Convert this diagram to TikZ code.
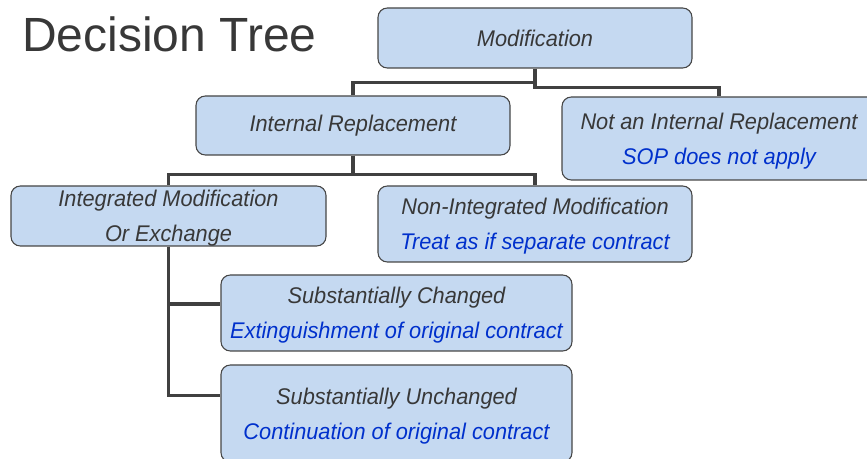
\documentclass[tikz,border=0pt]{standalone}
\usepackage{fontspec}
\setmainfont{Liberation Sans}
\newfontfamily\boxfont[FakeStretch=0.96]{Liberation Sans}
\usetikzlibrary{calc}

\definecolor{boxfill}{RGB}{197,217,241}
\definecolor{boxline}{RGB}{70,70,70}
\definecolor{linkgray}{RGB}{64,64,64}
\definecolor{txtgray}{RGB}{56,56,56}
\definecolor{noteblue}{RGB}{0,48,204}

\tikzset{
	box/.style = {draw = boxline, fill = boxfill, line width = 0.8pt,
		rounded corners = 7pt, align = center, inner sep = 0pt,
		text = txtgray, font = \boxfont\itshape\fontsize{17}{26}\selectfont},
	twoline/.style = {box, text depth = 0pt},
	link/.style = {draw = linkgray, line width = 2.3pt},
}

\begin{document}
\begin{tikzpicture}[x = 0.75pt, y = -0.75pt]
\useasboundingbox (0, 0) rectangle (867, 459);
\clip (0, 0) rectangle (867, 459);

\node[anchor = base west, inner sep = 0pt, text = txtgray,
		font = \fontsize{36}{40}\selectfont] (title)
	at (22, 52) {Decision Tree};

\node[box, minimum width = 235.5pt, minimum height = 45pt] (mod)
	at (535, 38) {Modification};
\node[box, minimum width = 235.5pt, minimum height = 44.25pt] (ir)
	at (353, 125.5) {Internal Replacement};
\node[twoline, minimum width = 235.5pt, minimum height = 62.25pt] (nir)
	at (719, 138.5) {Not an Internal Replacement\\
		\color{noteblue}SOP does not apply};
\node[twoline, minimum width = 236.25pt, minimum height = 45pt] (imx)
	at (168.5, 216) {Integrated Modification\\Or Exchange};
\node[twoline, minimum width = 235.5pt, minimum height = 57pt] (nim)
	at (535, 224) {Non-Integrated Modification\\
		\color{noteblue}Treat as if separate contract};
\node[twoline, minimum width = 263.25pt, minimum height = 57pt] (sc)
	at (396.5, 313) {Substantially Changed\\
		\color{noteblue}Extinguishment of original contract};
\node[twoline, minimum width = 263.25pt, minimum height = 72.75pt] (su)
	at (396.5, 413.5) {Substantially Unchanged\\
		\color{noteblue}Continuation of original contract};

\draw[link] (ir.north) |- ++(0, -13) -| (mod.south);
\draw[link] (mod.south) |- ++(0, 19) -| (nir.north);

\draw[link] (ir.south) |- ++(0, 19) -| (imx.north);
\draw[link] (ir.south) |- ++(0, 19) -| (nim.north);

\draw[link] (imx.south) |- ([yshift = 6.75pt]sc.west);
\draw[link] (imx.south) |- ([yshift = 13.5pt]su.west);
\end{tikzpicture}
\end{document}
